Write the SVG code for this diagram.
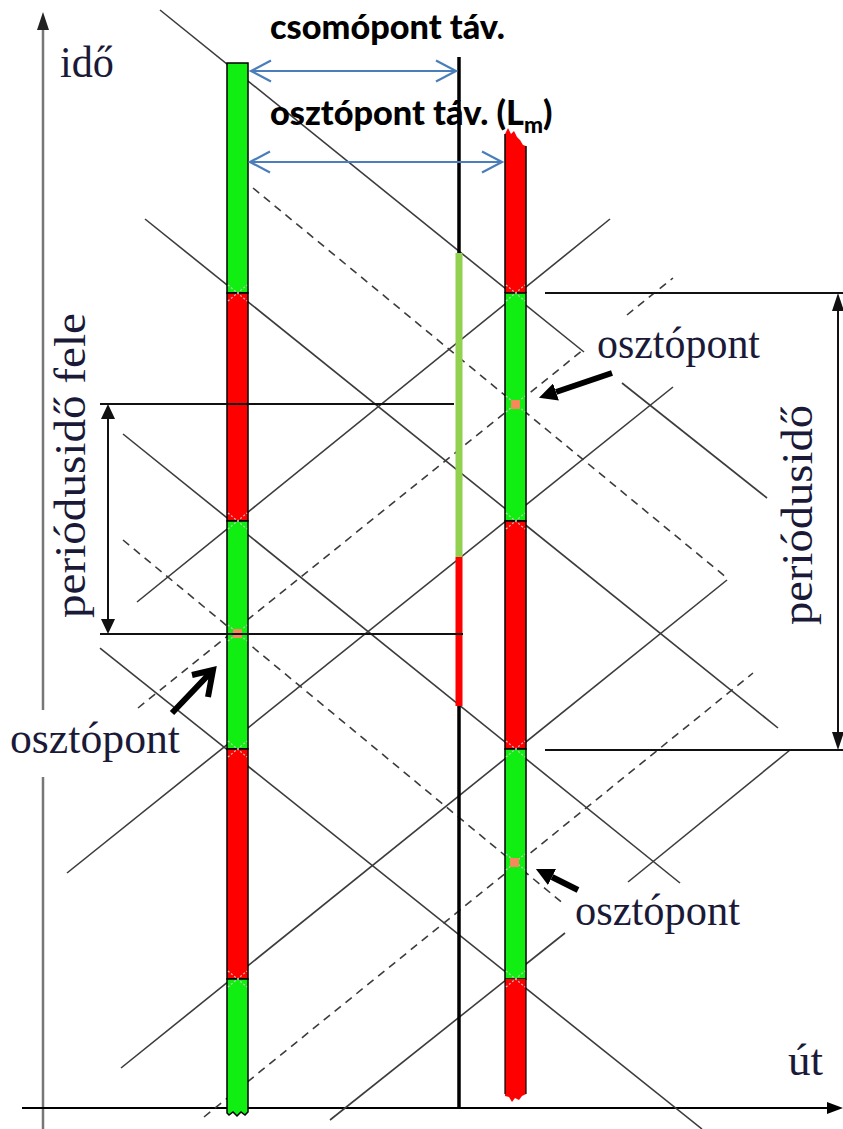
<svg xmlns="http://www.w3.org/2000/svg" width="843" height="1129" viewBox="0 0 843 1129">
<defs>
<style>
.ln{stroke:#3c3c3c;stroke-width:1.6;fill:none}
.ds{stroke:#3c3c3c;stroke-width:1.6;fill:none;stroke-dasharray:8 6}
.g{fill:#11ee11;stroke:#000;stroke-width:1.5}
.r{fill:#ff0000;stroke:#000;stroke-width:1.5}
.dim{stroke:#111;stroke-width:2;fill:none}
.head{fill:#111}
.ser{font-family:"Liberation Serif","Times New Roman",serif;font-size:44px;fill:#1a1a38}
.bold{font-family:Lato,"Liberation Sans",sans-serif;font-weight:900;fill:#000}
.blue{stroke:#4a7ebb;stroke-width:2.2;fill:none}
.hx{stroke:#c8c8c8;stroke-width:1.2;stroke-dasharray:2 2;fill:none}
.od{fill:#f5895a}
.arr{stroke:#000;stroke-width:6;fill:none}
</style>
<marker id="ah" viewBox="0 0 10 10" refX="0" refY="5" markerWidth="18" markerHeight="18" markerUnits="userSpaceOnUse" orient="auto"><path d="M0,0 L10,5 L0,10 z" fill="#000"/></marker>
</defs>
<rect width="843" height="1129" fill="#fff"/>

<g id="axes">
<line x1="43" y1="1129" x2="43" y2="777" stroke="#777" stroke-width="2.5"/>
<line x1="43" y1="710" x2="43" y2="26" stroke="#777" stroke-width="2.5"/>
<path d="M43,12 L49,30 L37,30 z" fill="#222"/>
<line x1="22" y1="1108" x2="830" y2="1108" stroke="#000" stroke-width="2.2"/>
<path d="M843,1108 L827,1102 L827,1114 z" fill="#000"/>
</g>

<g id="connectors">
<line class="ln" x1="160" y1="10" x2="584" y2="352"/>
<line class="ln" x1="622" y1="383" x2="767" y2="498"/>
<line class="ln" x1="145" y1="219" x2="778" y2="728"/>
<line class="ln" x1="123" y1="434" x2="680" y2="883"/>
<line class="ln" x1="100" y1="648" x2="702" y2="1129"/>
<line class="ln" x1="137" y1="602" x2="610" y2="219"/>
<line class="ln" x1="67" y1="873" x2="673" y2="387"/>
<line class="ln" x1="121" y1="1068" x2="727" y2="580"/>
<line class="ln" x1="330" y1="1120" x2="565" y2="933"/>
<line class="ln" x1="628" y1="882" x2="790" y2="750"/>
<line class="ds" x1="253" y1="188" x2="727" y2="578"/>
<line class="ds" x1="123" y1="540" x2="565" y2="905"/>
<line class="ds" x1="138" y1="708" x2="583" y2="350"/>
<line class="ds" x1="627" y1="315" x2="673" y2="278"/>
<line class="ds" x1="204" y1="1117" x2="753" y2="673"/>
</g>

<g id="bar-left">
<rect class="g" x="227" y="63" width="21" height="230"/>
<rect class="r" x="227" y="293" width="21" height="228"/>
<rect class="g" x="227" y="521" width="21" height="228"/>
<rect class="r" x="227" y="749" width="21" height="230"/>
<path class="g" d="M227,979 H248 V1112 L245,1115 L241,1112 L237,1116 L233,1112 L229,1115 L227,1113 Z"/>
</g>

<g id="bar-right">
<path d="M505,293 V134 L508,128 L511,134 L514,131 L517,137 L520,140 L523,145 L526,146 V293 Z" fill="#ff0000"/>
<line x1="505" y1="134" x2="505" y2="293" stroke="#000" stroke-width="1.5"/>
<line x1="526" y1="146" x2="526" y2="293" stroke="#000" stroke-width="1.5"/>
<rect class="g" x="505" y="293" width="21" height="228"/>
<rect class="r" x="505" y="521" width="21" height="228"/>
<rect class="g" x="505" y="749" width="21" height="230"/>
<path d="M505,979 H526 V1094 L522,1096 L519,1100 L515,1098 L512,1102 L509,1097 L505,1096 Z" fill="#ff0000"/>
<line x1="505" y1="979" x2="505" y2="1094" stroke="#000" stroke-width="1.2"/>
<line x1="526" y1="979" x2="526" y2="1094" stroke="#000" stroke-width="1.2"/>
</g>

<g id="junction-marks">
<path class="hx" d="M228,285 L247,301 M228,301 L247,285 M228,513 L247,529 M228,529 L247,513 M228,741 L247,757 M228,757 L247,741 M228,971 L247,987 M228,987 L247,971"/>
<path class="hx" d="M506,285 L525,301 M506,301 L525,285 M506,513 L525,529 M506,529 L525,513 M506,741 L525,757 M506,757 L525,741 M506,971 L525,987 M506,987 L525,971"/>
<path class="hx" d="M228,625 L247,641 M228,641 L247,625 M506,396 L525,412 M506,412 L525,396 M506,854 L525,870 M506,870 L525,854"/>
</g>

<g id="osztopont-dots">
<rect class="od" x="233" y="629" width="9" height="9"/>
<rect class="od" x="511" y="400" width="9" height="9"/>
<rect class="od" x="510" y="858" width="9" height="9"/>
</g>

<g id="node-line">
<line x1="459" y1="57" x2="459" y2="1108" stroke="#000" stroke-width="3.5"/>
<rect x="455.5" y="253" width="7" height="304" fill="#92d050"/>
<rect x="455.5" y="557" width="7" height="149" fill="#ff0000"/>
</g>

<g id="dim-half">
<line class="dim" x1="100" y1="404" x2="454" y2="404"/>
<line class="dim" x1="100" y1="634" x2="463" y2="634"/>
<line class="dim" x1="108" y1="416" x2="108" y2="622"/>
<path class="head" d="M108,404 L101,419 L115,419 z"/>
<path class="head" d="M108,634 L101,619 L115,619 z"/>
<text class="ser" transform="translate(85,618) rotate(-90)" textLength="305" lengthAdjust="spacingAndGlyphs">periódusidő fele</text>
</g>

<g id="dim-period">
<line class="dim" x1="545" y1="293" x2="843" y2="293"/>
<line class="dim" x1="545" y1="750" x2="843" y2="750"/>
<line class="dim" x1="838" y1="308" x2="838" y2="735"/>
<path class="head" d="M838,293 L832,311 L844,311 z"/>
<path class="head" d="M838,750 L832,732 L844,732 z"/>
<text class="ser" transform="translate(812,625) rotate(-90)" textLength="220" lengthAdjust="spacingAndGlyphs">periódusidő</text>
</g>

<g id="dist-arrows">
<line class="blue" x1="251" y1="71" x2="456" y2="71"/>
<path class="blue" d="M271,60.5 L251,71 L271,81.5 M436,60.5 L456,71 L436,81.5"/>
<line class="blue" x1="250" y1="162" x2="502" y2="162"/>
<path class="blue" d="M270,151.5 L250,162 L270,172.5 M482,151.5 L502,162 L482,172.5"/>
<text class="bold" x="270" y="39" font-size="34" textLength="235" lengthAdjust="spacingAndGlyphs">csomópont táv.</text>
<text class="bold" x="270" y="125" font-size="34" textLength="254" lengthAdjust="spacingAndGlyphs">osztópont táv. (L</text>
<text class="bold" x="524" y="133" font-size="23" textLength="19" lengthAdjust="spacingAndGlyphs">m</text>
<text class="bold" x="543" y="125" font-size="34">)</text>
</g>

<g id="osztopont-labels">
<line class="arr" x1="612" y1="373" x2="556" y2="392" marker-end="url(#ah)"/>
<line class="arr" x1="578" y1="890" x2="552" y2="877" marker-end="url(#ah)"/>
<path class="arr" d="M172,713 L213,670 M192,675 L213,670 L208,697" stroke-width="5"/>
<text class="ser" x="10" y="753" textLength="170" lengthAdjust="spacingAndGlyphs">osztópont</text>
<text class="ser" x="597" y="358" textLength="163" lengthAdjust="spacingAndGlyphs">osztópont</text>
<text class="ser" x="575" y="925" textLength="165" lengthAdjust="spacingAndGlyphs">osztópont</text>
</g>

<g id="axis-labels">
<text class="ser" x="60" y="77" textLength="54" lengthAdjust="spacingAndGlyphs">idő</text>
<text class="ser" x="788" y="1075" textLength="35" lengthAdjust="spacingAndGlyphs">út</text>
</g>
</svg>
